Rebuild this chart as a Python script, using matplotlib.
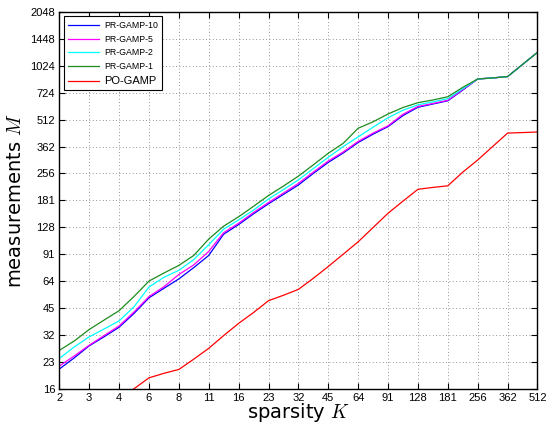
import matplotlib
matplotlib.use("Agg")
import matplotlib.pyplot as plt

# sparsity K (quarter-octave samples)
K = [2, 2.38, 2.83, 3.36, 4, 4.76, 5.66, 6.73, 8, 9.51, 11.31, 13.45, 16, 19.03,
     22.63, 26.91, 32, 38.05, 45.25, 53.82, 64, 76.11, 90.51, 107.6, 128, 152.2,
     181.0, 215.3, 256, 304.4, 362.0, 430.5, 512]

pr10 = [20.6, 23.8, 27.8, 31.2, 35.3, 42.2, 51.6, 58.3, 65.8, 76.1, 89.0, 117.0,
        132.5, 152.2, 173.1, 195.4, 220.5, 256.0, 295.1, 333.1, 381.3, 424.6, 467.9,
        539.4, 600.5, 626.0, 652.6, 749.6, 864.2, 876.2, 891.4, 1042, 1218]
pr5 = [21.4, 24.4, 28.0, 31.7, 35.9, 43.0, 52.4, 59.5, 69.6, 78.8, 93.7, 119.4,
       134.8, 154.9, 176.0, 198.8, 225.2, 260.5, 300.3, 337.8, 386.7, 430.5, 472.8,
       548.8, 606.8, 630.4, 657.1, 754.8, 864.2, 876.2, 891.4, 1042, 1218]
pr2 = [23.6, 27.4, 31.2, 34.5, 38.3, 46.0, 59.3, 67.2, 73.5, 84.4, 102.2, 124.9,
       140.6, 159.8, 184.2, 207.9, 235.5, 272.5, 315.2, 362.0, 410.1, 464.6, 524.6,
       578.0, 619.5, 643.5, 671.0, 762.7, 864.2, 876.2, 891.4, 1042, 1218]
pr1 = [26.2, 29.6, 34.3, 38.7, 43.7, 52.5, 64.0, 71.0, 78.3, 89.0, 109.9, 129.8,
       146.5, 167.7, 192.7, 217.5, 247.3, 286.0, 332.0, 377.4, 458.3, 498.0, 550.7,
       598.4, 637.0, 659.4, 687.4, 776.0, 864.2, 876.2, 891.4, 1042, 1218]

K_po = [4, 4.76, 5.66, 6.73, 8, 9.51, 11.31, 13.45, 16, 19.03, 22.63, 26.91, 32,
        38.05, 45.25, 53.82, 64, 76.11, 90.51, 107.6, 128, 152.2, 181.0, 215.3,
        256, 304.4, 362.0, 430.5, 512]
po = [13.7, 16.0, 18.4, 19.5, 20.5, 23.4, 26.9, 31.7, 37.1, 42.7, 49.7, 53.3, 57.5,
      66.3, 77.2, 90.5, 106.1, 127.6, 153.3, 179.2, 208.7, 213.8, 218.3, 260.5,
      304.4, 362.0, 430.5, 433.5, 436.5]

xticks = [2, 2.828, 4, 5.657, 8, 11.31, 16, 22.63, 32, 45.25, 64, 90.51, 128,
          181.02, 256, 362.04, 512]
xticklabels = ["2", "3", "4", "6", "8", "11", "16", "23", "32", "45", "64", "91",
               "128", "181", "256", "362", "512"]
yticks = [16, 22.63, 32, 45.25, 64, 90.51, 128, 181.02, 256, 362.04, 512, 724.08,
          1024, 1448.15, 2048]
yticklabels = ["16", "23", "32", "45", "64", "91", "128", "181", "256", "362",
               "512", "724", "1024", "1448", "2048"]

plt.rcParams["mathtext.fontset"] = "cm"

fig = plt.figure(figsize=(5.47, 4.26), dpi=100)
ax = fig.add_axes([0.1084, 0.0876, 0.8742, 0.8842])

lw = 0.9
ax.plot(K, pr10, color="#0000ff", lw=lw, label="PR-GAMP-10")
ax.plot(K, pr5, color="#ff00ff", lw=lw, label="PR-GAMP-5")
ax.plot(K, pr2, color="#00ffff", lw=lw, label="PR-GAMP-2")
ax.plot(K, pr1, color="#1e8c1e", lw=lw, label="PR-GAMP-1")
ax.plot(K_po, po, color="#ff0000", lw=lw, label="PO-GAMP")

ax.set_xscale("log", base=2)
ax.set_yscale("log", base=2)
ax.set_xlim(2, 512)
ax.set_ylim(16, 2048)
ax.set_xticks(xticks)
ax.set_xticklabels(xticklabels)
ax.set_yticks(yticks)
ax.set_yticklabels(yticklabels)
ax.minorticks_off()
ax.tick_params(which="major", direction="in", length=4, width=0.8,
               top=True, right=True, labelsize=8, pad=3)
for lab in ax.get_xticklabels() + ax.get_yticklabels():
    lab.set_family("Liberation Sans")

ax.grid(True, which="major", linestyle=(0, (1, 3)), color="0.45", lw=0.6)
for s in ax.spines.values():
    s.set_linewidth(1.0)

ax.set_xlabel(r"sparsity $K$", fontsize=14, labelpad=-1)
ax.set_ylabel(r"measurements $M$", fontsize=14, labelpad=4)

leg = ax.legend(loc="upper left", handlelength=3.5, labelspacing=0.55,
                borderpad=0.5, handletextpad=0.6, fancybox=False, framealpha=1,
                edgecolor="black", borderaxespad=0.5,
                prop={"family": "Liberation Sans", "size": 6.3})
leg.get_frame().set_linewidth(0.8)
leg.get_texts()[-1].set_fontsize(8)

fig.savefig("out.png", dpi=100)
